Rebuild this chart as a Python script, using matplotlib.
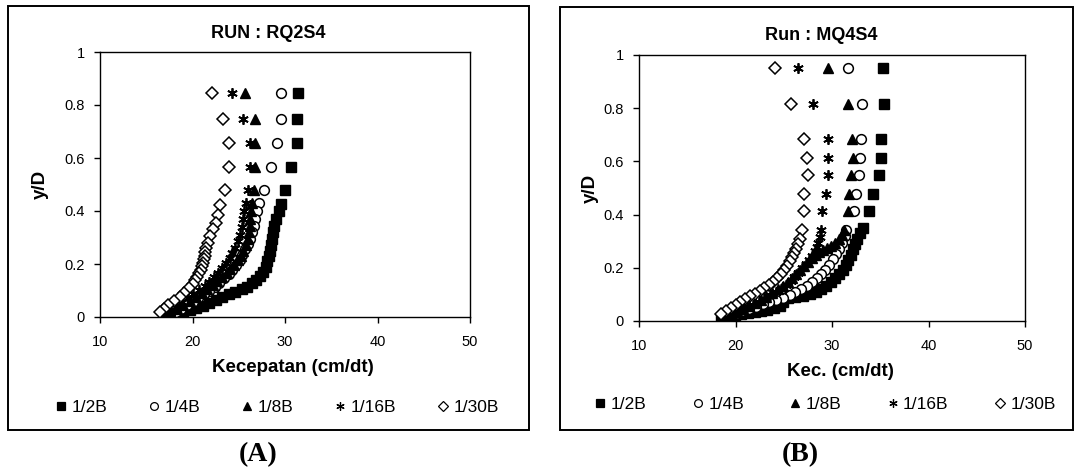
import matplotlib
matplotlib.use("Agg")
import matplotlib.pyplot as plt
from matplotlib.patches import Rectangle

plt.rcParams['font.family'] = ['Liberation Sans', 'DejaVu Sans']

labels = ['1/2B', '1/4B', '1/8B', '1/16B', '1/30B']

# ---- RUN : RQ2S4 (A) ----
a_x_2B = [31.4, 31.3, 31.3, 30.7, 30.0, 29.6, 29.3, 29.0, 28.8, 28.7, 28.6, 28.5, 28.4, 28.3, 28.1, 27.9,
          27.6, 27.3, 26.9, 26.4, 25.9, 25.3, 24.6, 23.9, 23.2, 22.5, 21.8, 21.1, 20.4, 19.7, 19.0, 18.5, 17.8]
a_y_2B = [0.844, 0.746, 0.658, 0.565, 0.479, 0.426, 0.40, 0.37, 0.345, 0.32, 0.295, 0.27, 0.25, 0.23, 0.21, 0.19,
          0.17, 0.155, 0.14, 0.127, 0.115, 0.105, 0.095, 0.085, 0.075, 0.063, 0.052, 0.042, 0.033, 0.025, 0.018,
          0.012, 0.008]
a_x_4B = [29.6, 29.6, 29.1, 28.5, 27.7, 27.2, 27.0, 26.8, 26.6, 26.4, 26.2, 26.0, 25.7, 25.4, 25.1, 24.7,
          24.3, 23.9, 23.4, 22.9, 22.4, 21.8, 21.2, 20.6, 20.0, 19.4, 18.8, 18.2, 17.6]
a_y_4B = [0.844, 0.746, 0.658, 0.565, 0.479, 0.43, 0.40, 0.37, 0.345, 0.32, 0.295, 0.275, 0.255, 0.235, 0.215, 0.195,
          0.178, 0.162, 0.146, 0.13, 0.115, 0.10, 0.086, 0.072, 0.058, 0.045, 0.032, 0.02, 0.01]
a_x_8B = [25.7, 26.8, 26.8, 26.8, 26.6, 26.4, 26.3, 26.2, 26.2, 26.1, 26.0, 25.8, 25.5, 25.2, 24.9, 24.5,
          24.1, 23.7, 23.2, 22.7, 22.2, 21.6, 21.0, 20.4, 19.7, 19.0, 18.3, 17.6, 17.0]
a_y_8B = [0.844, 0.746, 0.658, 0.565, 0.479, 0.43, 0.40, 0.37, 0.345, 0.32, 0.295, 0.272, 0.25, 0.232, 0.214, 0.197,
          0.181, 0.165, 0.15, 0.135, 0.12, 0.105, 0.09, 0.075, 0.06, 0.045, 0.03, 0.018, 0.01]
a_x_16B = [24.3, 25.5, 26.2, 26.2, 26.0, 25.8, 25.6, 25.5, 25.3, 25.1, 24.9, 24.6, 24.3, 24.0, 23.6, 23.2,
           22.8, 22.3, 21.8, 21.3, 20.7, 20.1, 19.5, 18.9, 18.3, 17.7, 17.1]
a_y_16B = [0.844, 0.746, 0.658, 0.565, 0.479, 0.43, 0.40, 0.37, 0.34, 0.31, 0.285, 0.262, 0.242, 0.222, 0.203, 0.185,
           0.167, 0.15, 0.133, 0.117, 0.101, 0.086, 0.071, 0.056, 0.042, 0.028, 0.016]
a_x_30B = [22.1, 23.3, 23.9, 23.9, 23.5, 23.0, 22.8, 22.5, 22.2, 21.9, 21.7, 21.5, 21.4, 21.3, 21.2, 21.1,
           21.0, 20.9, 20.7, 20.5, 20.3, 20.0, 19.6, 19.1, 18.6, 18.0, 17.4, 16.9, 16.5]
a_y_30B = [0.844, 0.746, 0.658, 0.565, 0.479, 0.423, 0.385, 0.355, 0.331, 0.305, 0.28, 0.262, 0.246, 0.232, 0.218, 0.205,
           0.192, 0.178, 0.165, 0.152, 0.138, 0.124, 0.108, 0.092, 0.077, 0.062, 0.046, 0.032, 0.02]

# ---- Run : MQ4S4 (B) ----
b_x_2B = [35.3, 35.4, 35.1, 35.1, 34.9, 34.2, 33.8, 33.2, 32.9, 32.6, 32.4, 32.2, 32.0, 31.7, 31.4, 31.1,
          30.7, 30.3, 29.9, 29.4, 28.9, 28.3, 27.7, 27.0, 26.2, 25.4, 24.9, 24.6, 24.0, 23.3, 22.6, 22.0,
          21.3, 20.6, 19.9, 19.2, 18.5]
b_y_2B = [0.952, 0.816, 0.683, 0.611, 0.548, 0.479, 0.414, 0.348, 0.33, 0.31, 0.29, 0.27, 0.25, 0.23, 0.21, 0.19,
          0.175, 0.16, 0.145, 0.13, 0.12, 0.11, 0.102, 0.095, 0.09, 0.085, 0.07, 0.055, 0.048, 0.042, 0.038, 0.034,
          0.03, 0.025, 0.02, 0.015, 0.012]
b_x_4B = [31.7, 33.1, 33.0, 32.9, 32.8, 32.5, 32.3, 31.5, 31.3, 31.0, 30.7, 30.4, 30.1, 29.7, 29.3, 28.9,
          28.4, 27.9, 27.4, 26.8, 26.2, 25.6, 24.9, 24.2, 23.5, 22.8, 22.1, 21.4, 20.7, 20.0, 19.3]
b_y_4B = [0.952, 0.816, 0.683, 0.611, 0.548, 0.479, 0.414, 0.342, 0.318, 0.295, 0.272, 0.252, 0.232, 0.212, 0.193, 0.176,
          0.16, 0.146, 0.133, 0.12, 0.108, 0.097, 0.088, 0.08, 0.072, 0.063, 0.054, 0.045, 0.036, 0.027, 0.02]
b_x_8B = [29.6, 31.7, 32.1, 32.2, 32.0, 31.8, 31.7, 31.2, 31.0, 30.7, 30.3, 29.9, 29.5, 29.1, 28.7, 28.3,
          27.9, 27.5, 27.1, 26.7, 26.3, 25.9, 25.4, 24.9, 24.4, 23.8, 23.2, 22.6, 22.0, 21.4, 20.8, 20.2,
          19.6, 19.0]
b_y_8B = [0.952, 0.816, 0.683, 0.611, 0.548, 0.479, 0.414, 0.342, 0.325, 0.308, 0.293, 0.282, 0.273, 0.266, 0.258, 0.248,
          0.236, 0.222, 0.207, 0.192, 0.177, 0.162, 0.147, 0.133, 0.119, 0.105, 0.092, 0.08, 0.068, 0.056, 0.045, 0.035,
          0.026, 0.018]
b_x_16B = [26.5, 28.0, 29.6, 29.6, 29.6, 29.4, 29.0, 28.9, 28.8, 28.6, 28.4, 28.2, 27.9, 27.6, 27.3, 26.9,
           26.5, 26.1, 25.7, 25.2, 24.7, 24.2, 23.6, 23.0, 22.4, 21.8, 21.2, 20.6, 20.0, 19.4, 18.9]
b_y_16B = [0.952, 0.816, 0.683, 0.611, 0.548, 0.479, 0.414, 0.342, 0.315, 0.295, 0.278, 0.262, 0.246, 0.23, 0.214, 0.198,
           0.182, 0.166, 0.151, 0.136, 0.122, 0.109, 0.096, 0.084, 0.073, 0.062, 0.051, 0.041, 0.032, 0.024, 0.017]
b_x_30B = [24.1, 25.8, 27.1, 27.4, 27.5, 27.1, 27.1, 26.9, 26.7, 26.5, 26.3, 26.1, 25.9, 25.6, 25.3, 25.0,
           24.7, 24.3, 23.9, 23.5, 23.0, 22.5, 22.0, 21.5, 21.0, 20.5, 20.0, 19.5, 19.0, 18.5]
b_y_30B = [0.952, 0.816, 0.683, 0.611, 0.548, 0.479, 0.414, 0.342, 0.31, 0.29, 0.272, 0.256, 0.24, 0.224, 0.208, 0.192,
           0.177, 0.162, 0.148, 0.135, 0.123, 0.112, 0.102, 0.093, 0.083, 0.073, 0.062, 0.05, 0.038, 0.026]

# marker style per series (1/2B, 1/4B, 1/8B, 1/16B, 1/30B) - later series drawn on top
styles = [
    dict(marker='s', ms=7.0, mfc='black', mec='black', mew=1.0, zorder=3),
    dict(marker='o', ms=7.0, mfc='white', mec='black', mew=1.1, zorder=4),
    dict(marker='^', ms=7.5, mfc='black', mec='black', mew=1.0, zorder=5),
    dict(marker=(6, 2, 0), ms=7.5, mfc='black', mec='black', mew=1.3, zorder=6),
    dict(marker='D', ms=6.3, mfc='white', mec='black', mew=1.1, zorder=7),
]

fig = plt.figure(figsize=(10.75, 4.72), dpi=100)
W, H = 1075.0, 472.0


def px_box(x0, y0, x1, y1):
    return [x0 / W, 1 - y1 / H, (x1 - x0) / W, (y1 - y0) / H]


panels = [
    dict(box=(8, 6, 529, 430), axes=(100, 52, 470, 317), title='RUN : RQ2S4', title_xy=(268, 33),
         xlabel='Kecepatan (cm/dt)', xlabel_y=368, legend_y=407, letter='(A)', letter_xy=(258, 455),
         data=[(a_x_2B, a_y_2B), (a_x_4B, a_y_4B), (a_x_8B, a_y_8B), (a_x_16B, a_y_16B), (a_x_30B, a_y_30B)],
         ylabel_x=40, colsp=2.3),
    dict(box=(560, 7, 1073, 430), axes=(639, 55, 1025, 321), title='Run : MQ4S4', title_xy=(821, 35),
         xlabel='Kec. (cm/dt)', xlabel_y=371, legend_y=404, letter='(B)', letter_xy=(800, 455),
         data=[(b_x_2B, b_y_2B), (b_x_4B, b_y_4B), (b_x_8B, b_y_8B), (b_x_16B, b_y_16B), (b_x_30B, b_y_30B)],
         ylabel_x=590, colsp=2.55),
]

for p in panels:
    bx = p['box']
    fig.patches.append(Rectangle((bx[0] / W, 1 - bx[3] / H), (bx[2] - bx[0]) / W, (bx[3] - bx[1]) / H,
                                 transform=fig.transFigure, fill=False, edgecolor='black', linewidth=1.4))
    ax = fig.add_axes(px_box(*p['axes']))
    for (xs, ys), st in zip(p['data'], styles):
        ax.plot(xs, ys, linestyle='none', marker=st['marker'], markersize=st['ms'],
                markerfacecolor=st['mfc'], markeredgecolor=st['mec'], markeredgewidth=st['mew'],
                zorder=st['zorder'])
    ax.set_xlim(10, 50)
    ax.set_ylim(0, 1)
    ax.set_xticks([10, 20, 30, 40, 50])
    ax.set_yticks([0, 0.2, 0.4, 0.6, 0.8, 1])
    ax.set_yticklabels(['0', '0.2', '0.4', '0.6', '0.8', '1'])
    ax.tick_params(direction='out', length=4, width=1, labelsize=10.5)
    ax.tick_params(axis='x', pad=9)
    ax.tick_params(axis='y', pad=7)
    for s in ax.spines.values():
        s.set_linewidth(1.0)

    cx = (p['axes'][0] + p['axes'][2]) / 2
    cy = (p['axes'][1] + p['axes'][3]) / 2
    fig.text(p['ylabel_x'] / W, 1 - cy / H, 'y/D', ha='center', va='center', rotation=90,
             fontsize=13.5, fontweight='bold')
    fig.text(p['title_xy'][0] / W, 1 - p['title_xy'][1] / H, p['title'], ha='center', va='center',
             fontsize=13, fontweight='bold')
    fig.text((cx + 8) / W, 1 - p['xlabel_y'] / H, p['xlabel'], ha='center', va='center',
             fontsize=13.5, fontweight='bold')
    fig.text(p['letter_xy'][0] / W, 1 - p['letter_xy'][1] / H, p['letter'], ha='center', va='center',
             fontsize=20, fontweight='bold', family='Liberation Serif')

    leg_handles = []
    for st in styles:
        lh, = ax.plot([], [], linestyle='none', marker=st['marker'], markersize=st['ms'] * 0.8,
                      markerfacecolor=st['mfc'], markeredgecolor=st['mec'], markeredgewidth=0.9)
        leg_handles.append(lh)
    bxc = (bx[0] + bx[2]) / 2 + 8
    fig.legend(leg_handles, labels, loc='center', bbox_to_anchor=(bxc / W, 1 - p['legend_y'] / H),
               ncol=5, frameon=False, fontsize=12.5, handlelength=0.8, handletextpad=0.2,
               columnspacing=p['colsp'], borderaxespad=0, borderpad=0)

fig.savefig('out.png', dpi=100, facecolor='white')
